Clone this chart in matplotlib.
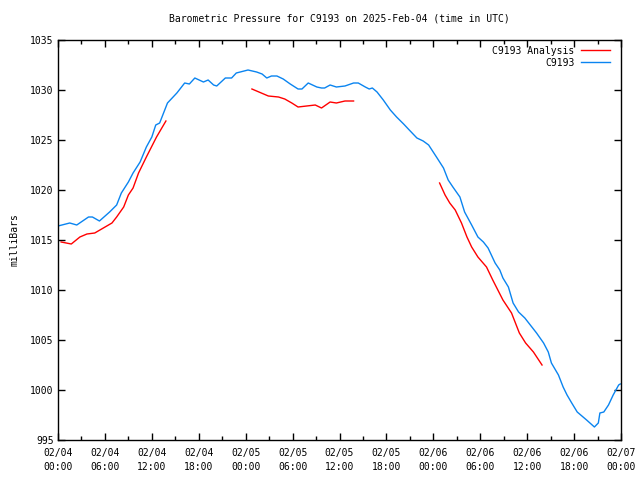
import matplotlib
matplotlib.use("Agg")
import matplotlib.pyplot as plt
from matplotlib.ticker import MultipleLocator, FuncFormatter

# ── Data (hours since 2025-02-04 00:00 UTC, pressure in mb) ──────────────────

station_hours = [0.0, 1.5, 2.4, 3.9, 4.4, 5.3, 6.6, 7.5, 8.1, 9.0, 9.6, 10.5,
                 11.3, 12.0, 12.5, 13.0, 14.0, 15.2, 16.2, 16.8, 17.5, 18.6,
                 19.2, 19.9, 20.3, 21.4, 22.2, 22.8, 24.3, 25.4, 26.1, 26.7,
                 27.3, 28.0, 28.8, 29.7, 30.7, 31.2, 32.0, 33.1, 33.7, 34.1,
                 34.8, 35.6, 36.7, 37.8, 38.4, 39.3, 39.8, 40.2, 40.8, 41.6,
                 42.5, 43.3, 44.2, 44.8, 45.9, 46.7, 47.4, 48.4, 49.3, 49.9,
                 50.5, 51.4, 52.0, 52.9, 53.7, 54.4, 55.0, 55.9, 56.5, 56.9,
                 57.6, 58.2, 58.9, 59.7, 60.6, 61.2, 62.1, 62.7, 63.1, 64.0,
                 64.6, 65.1, 65.7, 66.4, 67.6, 68.6, 69.1, 69.3, 69.8, 70.4,
                 71.0, 71.7, 71.9]
station_mb = [1016.4, 1016.7, 1016.5, 1017.3, 1017.3, 1016.9, 1017.8, 1018.5,
              1019.7, 1020.8, 1021.7, 1022.8, 1024.3, 1025.3, 1026.5, 1026.7,
              1028.7, 1029.7, 1030.7, 1030.6, 1031.2, 1030.8, 1031.0, 1030.5,
              1030.4, 1031.2, 1031.2, 1031.7, 1032.0, 1031.8, 1031.6, 1031.2,
              1031.4, 1031.4, 1031.1, 1030.6, 1030.1, 1030.1, 1030.7, 1030.3,
              1030.2, 1030.2, 1030.5, 1030.3, 1030.4, 1030.7, 1030.7, 1030.3,
              1030.1, 1030.2, 1029.8, 1029.0, 1028.0, 1027.3, 1026.6, 1026.1,
              1025.2, 1024.9, 1024.5, 1023.3, 1022.2, 1021.0, 1020.3, 1019.3,
              1017.8, 1016.5, 1015.3, 1014.8, 1014.2, 1012.7, 1012.0, 1011.2,
              1010.3, 1008.7, 1007.8, 1007.2, 1006.3, 1005.7, 1004.7, 1003.8,
              1002.7, 1001.5, 1000.3, 999.5, 998.7, 997.8, 997.0, 996.3, 996.7,
              997.7, 997.8, 998.5, 999.5, 1000.5, 1000.6]

analysis_hours = [0.4, 1.7, 2.8, 3.7, 4.7, 5.8, 6.9, 7.5, 8.4, 9.0, 9.6, 10.3,
                  11.3, 12.6, 13.8,
                  None,
                  24.8, 25.4, 26.3, 26.9, 28.2, 29.0, 29.9, 30.7, 31.8, 32.9,
                  33.7, 34.8, 35.6, 36.7, 37.8,
                  None,
                  48.8, 49.5, 50.1, 50.8, 51.6, 52.3, 52.9, 53.7, 54.8, 55.6,
                  56.9, 58.0, 59.0, 59.8, 60.8, 61.9]
analysis_mb = [1014.8, 1014.6, 1015.3, 1015.6, 1015.7, 1016.2, 1016.7, 1017.3,
               1018.3, 1019.5, 1020.2, 1021.7, 1023.3, 1025.3, 1026.9,
               None,
               1030.1, 1029.9, 1029.6, 1029.4, 1029.3, 1029.1, 1028.7, 1028.3,
               1028.4, 1028.5, 1028.2, 1028.8, 1028.7, 1028.9, 1028.9,
               None,
               1020.7, 1019.5, 1018.7, 1018.0, 1016.7, 1015.3, 1014.3, 1013.3,
               1012.3, 1011.0, 1009.0, 1007.7, 1005.7, 1004.7, 1003.8, 1002.5]

day_labels = ["02/04", "02/05", "02/06", "02/07"]

# ── Plot ──────────────────────────────────────────────────────────────────────

plt.rcParams["font.family"] = "DejaVu Sans Mono"
plt.rcParams["font.size"] = 7

fig = plt.figure(figsize=(6.4, 4.8), dpi=100)
ax = fig.add_axes([58 / 640, 40 / 480, 563 / 640, 400 / 480])

ax.plot(analysis_hours, analysis_mb, color="#ff0000", linewidth=1.0,
        label="C9193 Analysis")
ax.plot(station_hours, station_mb, color="#0a84f0", linewidth=1.0,
        label="C9193")

ax.set_xlim(0, 72)
ax.set_ylim(995, 1035)


def hour_label(h, pos):
    h = int(round(h))
    return f"{day_labels[h // 24]}\n{h % 24:02d}:00"


ax.xaxis.set_major_locator(MultipleLocator(6))
ax.xaxis.set_minor_locator(MultipleLocator(3))
ax.xaxis.set_major_formatter(FuncFormatter(hour_label))
ax.yaxis.set_major_locator(MultipleLocator(5))

ax.tick_params(which="both", direction="in", top=True, right=True,
               width=1, color="black", labelsize=7)
ax.tick_params(which="major", length=5)
ax.tick_params(which="minor", length=3)
ax.tick_params(axis="x", pad=6)
ax.tick_params(axis="y", pad=3)
for lbl in ax.get_xticklabels():
    lbl.set_linespacing(1.45)

for s in ax.spines.values():
    s.set_linewidth(1)

ax.set_ylabel("milliBars", fontsize=7, labelpad=8)
ax.set_title("Barometric Pressure for C9193 on 2025-Feb-04 (time in UTC)",
             fontsize=7, pad=13)

ax.legend(loc="upper right", bbox_to_anchor=(1 - 2 / 563, 1 + 3 / 400),
          frameon=False, markerfirst=False, fontsize=7,
          handlelength=3.0, handletextpad=0.7, labelspacing=0.2,
          borderaxespad=0.5)

fig.savefig("out.png", dpi=100)
